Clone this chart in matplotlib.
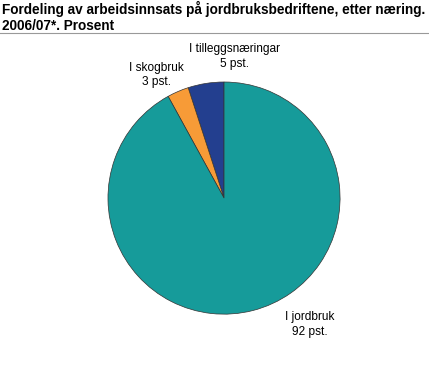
import matplotlib
matplotlib.use('Agg')
import matplotlib.pyplot as plt
from matplotlib.lines import Line2D

# ── Data ───────────────────────────────────────────────────────────────────────
categories = ['I tilleggsnæringar', 'I skogbruk', 'I jordbruk']
shares     = [5, 3, 92]
colors     = ['#233f8f', '#f79b37', '#169b9a']

# label anchor points (data units, pie radius = 1)
label_pos  = [(0.09, 1.22), (-0.58, 1.06), (0.74, -1.09)]

plt.rcParams['font.family'] = ['Liberation Sans', 'DejaVu Sans']

fig = plt.figure(figsize=(4.29, 3.85), dpi=100)

# ── Title ──────────────────────────────────────────────────────────────────────
fig.text(0.004, 0.997, 'Fordeling av arbeidsinnsats på jordbruksbedriftene, etter næring.\n2006/07*. Prosent',
         ha='left', va='top', fontsize=9.8, fontweight='bold', linespacing=1.12)
fig.add_artist(Line2D([0, 1], [1 - 33 / 385, 1 - 33 / 385], color='#999999', linewidth=0.8))

# ── Pie ────────────────────────────────────────────────────────────────────────
ax = fig.add_axes([0.2517, 0.184, 0.541, 0.603])
ax.pie(shares, colors=colors, startangle=90, counterclock=True, radius=1,
       wedgeprops=dict(edgecolor='#333333', linewidth=0.5))
ax.set_xlim(-1, 1)
ax.set_ylim(-1, 1)
ax.set_aspect('auto')
ax.axis('off')

for name, val, (x, y) in zip(categories, shares, label_pos):
    ax.text(x, y, f'{name}\n{val} pst.', ha='center', va='center', fontsize=8.6,
            linespacing=1.3, clip_on=False)

plt.savefig('out.png', dpi=100)
